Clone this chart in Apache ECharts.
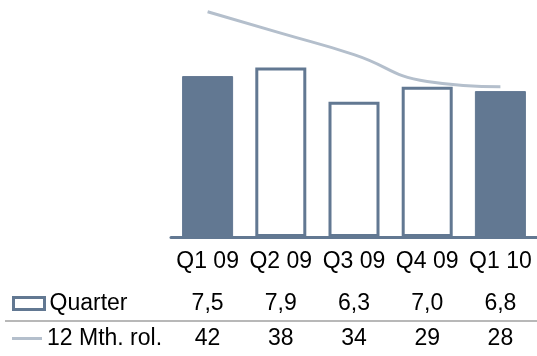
<!DOCTYPE html>
<html>
<head>
<meta charset="utf-8">
<script src="https://cdn.jsdelivr.net/npm/echarts@6/dist/echarts.min.js"></script>
<style>
html,body{margin:0;padding:0;background:#fff;}
#chart{width:537px;height:356px;}
</style>
</head>
<body>
<div id="chart"></div>
<script>
const categories = ['Q1 09', 'Q2 09', 'Q3 09', 'Q4 09', 'Q1 10'];
const quarter = [7.5, 7.9, 6.3, 7.0, 6.8];
const rolling = [42, 38, 34, 29, 28];
const filled = [true, false, false, false, true];
const seriesNames = ['Quarter', '12 Mth. rol.'];

const DARK = '#627892';
const LIGHT = '#b4bfcc';
const FONT = 'Liberation Sans, Arial, sans-serif';
const FS = 23;

const fmt = v => v.toFixed(1).replace('.', ',');

const chart = echarts.init(document.getElementById('chart'));
chart.setOption({
  animation: false,
  textStyle: { fontFamily: FONT },
  grid: { left: 171, width: 369, top: 1, height: 236, containLabel: false },
  legend: [
    {
      left: 12, top: 292, padding: 0,
      itemWidth: 31, itemHeight: 12,
      selectedMode: false,
      textStyle: { fontSize: FS, color: '#000', fontFamily: FONT },
      data: [{ name: seriesNames[0], icon: 'rect',
        itemStyle: { color: '#fff', borderColor: DARK, borderWidth: 3 } }]
    },
    {
      left: 12, top: 327, padding: 0,
      itemWidth: 30, itemHeight: 3,
      selectedMode: false,
      textStyle: { fontSize: FS, color: '#000', fontFamily: FONT },
      data: [{ name: seriesNames[1], icon: 'rect',
        itemStyle: { color: LIGHT, borderWidth: 0 } }]
    }
  ],
  xAxis: [
    {
      type: 'category', data: categories, gridIndex: 0,
      axisLine: { lineStyle: { color: DARK, width: 3 } },
      axisTick: { show: false },
      axisLabel: { interval: 0, hideOverlap: false, margin: 13, fontSize: FS, color: '#000', fontFamily: FONT }
    },
    {
      type: 'category', data: quarter.map(fmt), gridIndex: 0, position: 'bottom', offset: 47,
      axisLine: { show: false }, axisTick: { show: false },
      axisLabel: { interval: 0, hideOverlap: false, margin: 8, fontSize: FS, color: '#000', fontFamily: FONT }
    },
    {
      type: 'category', data: rolling.map(String), gridIndex: 0, position: 'bottom', offset: 82,
      axisLine: { show: false }, axisTick: { show: false },
      axisLabel: { interval: 0, hideOverlap: false, margin: 8, fontSize: FS, color: '#000', fontFamily: FONT }
    }
  ],
  yAxis: [
    { type: 'value', min: 0, max: 11, show: false, splitLine: { show: false } },
    { type: 'value', min: 0, max: 44, show: false, splitLine: { show: false } }
  ],
  graphic: [
    { type: 'line', shape: { x1: 5, y1: 321, x2: 537, y2: 321 },
      style: { stroke: '#a0a0a0', lineWidth: 1.5 }, silent: true }
  ],
  series: [
    {
      name: seriesNames[0], type: 'bar', xAxisIndex: 0, yAxisIndex: 0,
      barWidth: 51,
      data: quarter.map((v, i) => ({
        value: v,
        itemStyle: filled[i]
          ? { color: DARK, borderColor: DARK, borderWidth: 1 }
          : { color: '#fff', borderColor: DARK, borderWidth: 3 }
      })),
      z: 2
    },
    {
      name: seriesNames[1], type: 'line', xAxisIndex: 0, yAxisIndex: 1,
      data: rolling, smooth: 0.5, showSymbol: false, symbol: 'none',
      lineStyle: { color: LIGHT, width: 3 }, itemStyle: { color: LIGHT },
      z: 3
    }
  ]
});
</script>
</body>
</html>
